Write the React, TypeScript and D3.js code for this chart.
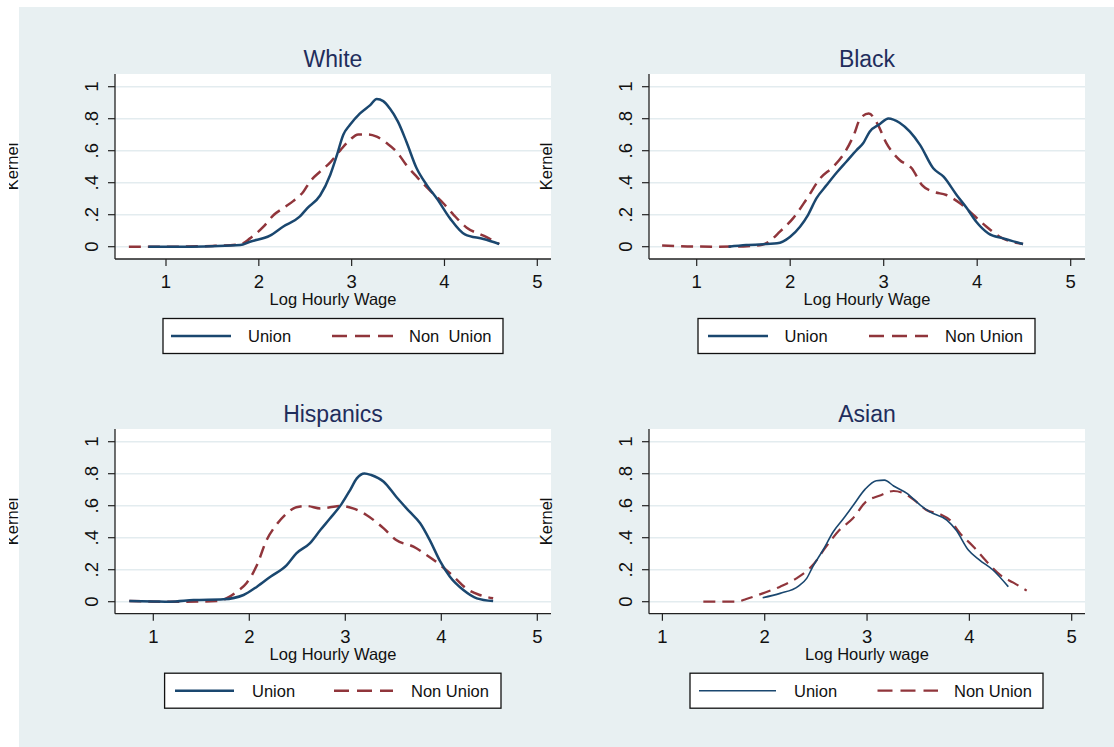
// Kernel densities of log hourly wage, union vs non union, by race (2x2 grid)
import * as d3 from "d3";

const yTicks = [0, 0.2, 0.4, 0.6, 0.8, 1];
const yTickLabels = ["0", ".2", ".4", ".6", ".8", "1"];
const xTicks = [1, 2, 3, 4, 5];

const whiteUnion = [[0.81,0],[1.2,0],[1.5,0.003],[1.8,0.01],[1.905,0.031],[2.12,0.069],[2.26,0.125],[2.44,0.1875],[2.52,0.24],[2.66,0.32],[2.77,0.45],[2.84,0.57],[2.91,0.7],[2.98,0.76],[3.09,0.833],[3.2,0.885],[3.27,0.923],[3.34,0.91],[3.41,0.865],[3.5,0.78],[3.59,0.656],[3.7,0.49],[3.81,0.385],[3.92,0.3],[4.06,0.177],[4.22,0.077],[4.42,0.048],[4.59,0.017]];
const whiteNonUnion = [[0.6,0],[1.0,0],[1.5,0.005],[1.8,0.015],[1.905,0.052],[2.05,0.125],[2.16,0.198],[2.26,0.24],[2.37,0.285],[2.48,0.344],[2.55,0.406],[2.66,0.469],[2.77,0.527],[2.88,0.604],[2.98,0.667],[3.07,0.702],[3.18,0.702],[3.27,0.6875],[3.38,0.646],[3.49,0.59],[3.59,0.51],[3.7,0.4375],[3.84,0.354],[3.99,0.27],[4.1,0.198],[4.24,0.119],[4.42,0.069],[4.59,0.017]];

const blackUnion = [[1.34,0],[1.53,0.01],[1.86,0.021],[2.0,0.0625],[2.105,0.125],[2.19,0.198],[2.28,0.302],[2.39,0.385],[2.5,0.465],[2.6,0.531],[2.71,0.604],[2.78,0.646],[2.85,0.719],[2.96,0.767],[3.05,0.802],[3.17,0.775],[3.28,0.719],[3.39,0.635],[3.53,0.49],[3.64,0.4375],[3.78,0.323],[3.89,0.24],[3.99,0.156],[4.12,0.083],[4.28,0.052],[4.49,0.017]];
const blackNonUnion = [[0.63,0.008],[0.9,0.002],[1.2,0],[1.5,0.002],[1.7,0.012],[1.78,0.035],[1.89,0.094],[2.03,0.177],[2.18,0.302],[2.32,0.427],[2.46,0.5],[2.57,0.577],[2.68,0.698],[2.75,0.802],[2.84,0.833],[2.93,0.771],[3.03,0.646],[3.17,0.542],[3.3,0.49],[3.41,0.385],[3.53,0.344],[3.67,0.323],[3.82,0.27],[3.96,0.198],[4.1,0.125],[4.24,0.0625],[4.49,0.017]];

const hispUnion = [[0.75,0.005],[1.0,0.002],[1.17,0],[1.42,0.01],[1.73,0.015],[1.94,0.042],[2.08,0.094],[2.22,0.156],[2.39,0.229],[2.49,0.302],[2.63,0.365],[2.74,0.448],[2.84,0.52],[2.96,0.61],[3.05,0.698],[3.12,0.771],[3.2,0.802],[3.27,0.792],[3.4,0.75],[3.53,0.656],[3.67,0.5625],[3.78,0.49],[3.88,0.385],[3.99,0.25],[4.09,0.156],[4.23,0.073],[4.37,0.021],[4.54,0.004]];
const hispNonUnion = [[0.75,0.005],[1.07,0],[1.31,0],[1.66,0.004],[1.76,0.02],[1.87,0.0625],[1.97,0.115],[2.08,0.229],[2.18,0.385],[2.28,0.479],[2.39,0.552],[2.49,0.59],[2.6,0.598],[2.74,0.583],[2.84,0.59],[2.96,0.598],[3.08,0.583],[3.22,0.542],[3.4,0.458],[3.53,0.385],[3.71,0.344],[3.85,0.29],[3.99,0.229],[4.13,0.156],[4.26,0.083],[4.4,0.042],[4.54,0.021]];

const asianUnion = [[1.98,0.025],[2.15,0.052],[2.33,0.098],[2.41,0.146],[2.47,0.219],[2.57,0.323],[2.67,0.4375],[2.77,0.52],[2.86,0.598],[2.98,0.702],[3.09,0.756],[3.17,0.76],[3.26,0.723],[3.39,0.677],[3.52,0.604],[3.61,0.5625],[3.78,0.51],[3.87,0.448],[3.99,0.323],[4.1,0.26],[4.23,0.198],[4.38,0.094]];
const asianNonUnion = [[1.4,0],[1.72,0],[1.82,0.017],[1.98,0.052],[2.15,0.094],[2.31,0.146],[2.47,0.229],[2.6,0.344],[2.73,0.448],[2.86,0.52],[2.99,0.625],[3.12,0.6625],[3.26,0.692],[3.39,0.667],[3.48,0.625],[3.58,0.573],[3.71,0.548],[3.81,0.51],[3.91,0.427],[4.04,0.344],[4.17,0.25],[4.3,0.167],[4.43,0.119],[4.56,0.069]];

const FONT = "'Liberation Sans', Arial, Helvetica, sans-serif";
const UNION = "#1a476f";
const NONUNION = "#90353b";
const BG = "#e8f0f2";
const GRID = "#e3ecef";

// layout per panel (pixels)
const panels = [
  { title: "White", union: whiteUnion, non: whiteNonUnion, left: 115, right: 551, top: 74, bottom: 259, x1: 166, x5: 537.3, y0: 246.7, y1: 86.7, xTitle: "Log Hourly Wage", nonLabel: "Non  Union", uw: 2.5, nw: 2.5,
    lg: { x0: 163, x1: 503, uL: [171, 231], uT: 248, nL: [332, 393], nT: 409 } },
  { title: "Black", union: blackUnion, non: blackNonUnion, left: 649, right: 1085, top: 74, bottom: 259, x1: 696.7, x5: 1070.7, y0: 246.7, y1: 86.7, xTitle: "Log Hourly Wage", nonLabel: "Non Union", uw: 2.5, nw: 2.5,
    lg: { x0: 698, x1: 1035, uL: [708, 768], uT: 784.5, nL: [869, 928], nT: 945 } },
  { title: "Hispanics", union: hispUnion, non: hispNonUnion, left: 115, right: 551, top: 429, bottom: 613.7, x1: 153.3, x5: 537.3, y0: 601.7, y1: 441.7, xTitle: "Log Hourly Wage", nonLabel: "Non Union", uw: 2.5, nw: 2.5,
    lg: { x0: 164.6, x1: 501, uL: [175, 234], uT: 252, nL: [334, 393], nT: 411 } },
  { title: "Asian", union: asianUnion, non: asianNonUnion, left: 649, right: 1085, top: 429, bottom: 613.7, x1: 662.4, x5: 1071.7, y0: 601.7, y1: 441.7, xTitle: "Log Hourly wage", nonLabel: "Non Union", uw: 1.6, nw: 2.2,
    lg: { x0: 690, x1: 1043, uL: [699, 776], uT: 794, nL: [877.5, 938], nT: 954 } },
];

function Panel({ p }) {
  const x = d3.scaleLinear().domain([1, 5]).range([p.x1, p.x5]);
  const y = d3.scaleLinear().domain([0, 1]).range([p.y0, p.y1]);
  const line = d3.line().x(d => x(d[0])).y(d => y(d[1])).curve(d3.curveMonotoneX);
  const cx = (p.left + p.right) / 2;
  const cy = (p.top + p.bottom) / 2;
  const lgTop = p.bottom + 59.5;
  const lgMid = lgTop + 17.5;
  return (
    <g fontFamily={FONT}>
      <rect x={p.left} y={p.top} width={p.right - p.left} height={p.bottom - p.top} fill="#fff" />
      {yTicks.map(t => (
        <line key={t} x1={p.left} x2={p.right} y1={y(t)} y2={y(t)} stroke={GRID} strokeWidth={1.6} />
      ))}
      <path d={line(p.non)} fill="none" stroke={NONUNION} strokeWidth={p.nw} strokeDasharray="12,7" />
      <path d={line(p.union)} fill="none" stroke={UNION} strokeWidth={p.uw} />
      {/* axes */}
      <line x1={p.left} x2={p.left} y1={p.top} y2={p.bottom} stroke="#222" strokeWidth={1.3} />
      <line x1={p.left} x2={p.right} y1={p.bottom} y2={p.bottom} stroke="#222" strokeWidth={1.3} />
      {yTicks.map((t, i) => (
        <g key={t}>
          <line x1={p.left - 7} x2={p.left} y1={y(t)} y2={y(t)} stroke="#222" strokeWidth={1.2} />
          <text transform={`translate(${p.left - 17},${y(t)}) rotate(-90)`} textAnchor="middle" fontSize={18.5} fill="#111">{yTickLabels[i]}</text>
        </g>
      ))}
      {xTicks.map(t => (
        <g key={t}>
          <line x1={x(t)} x2={x(t)} y1={p.bottom} y2={p.bottom + 7} stroke="#222" strokeWidth={1.2} />
          <text x={x(t)} y={p.bottom + 29} textAnchor="middle" fontSize={18.5} fill="#111">{t}</text>
        </g>
      ))}
      <text x={cx} y={p.bottom + 46} textAnchor="middle" fontSize={16.5} fill="#111">{p.xTitle}</text>
      <g clipPath="url(#leftClip)">
        <text transform={`translate(${p.left - 97},${cy}) rotate(-90)`} textAnchor="middle" fontSize={16.5} fill="#111">Kernel</text>
      </g>
      <text x={cx} y={p.top - 7} textAnchor="middle" fontSize={23} fill="#1f2d5c">{p.title}</text>
      {/* legend */}
      <rect x={p.lg.x0} y={lgTop} width={p.lg.x1 - p.lg.x0} height={35} fill="#fff" stroke="#111" strokeWidth={1.3} />
      <line x1={p.lg.uL[0]} x2={p.lg.uL[1]} y1={lgMid} y2={lgMid} stroke={UNION} strokeWidth={p.uw} />
      <text x={p.lg.uT} y={lgMid + 6} fontSize={16.5} fill="#111">Union</text>
      <line x1={p.lg.nL[0]} x2={p.lg.nL[1]} y1={lgMid} y2={lgMid} stroke={NONUNION} strokeWidth={p.nw} strokeDasharray="15,8" />
      <text x={p.lg.nT} y={lgMid + 6} fontSize={16.5} fill="#111" style={{ whiteSpace: "pre" }}>{p.nonLabel}</text>
    </g>
  );
}

export default function App() {
  return (
    <div style={{ position: "absolute", left: 0, top: 0 }}>
      <svg width={1114} height={747} style={{ display: "block", background: "#fff" }}>
        <defs>
          <clipPath id="leftClip" clipPathUnits="userSpaceOnUse">
            <rect x={9} y={0} width={1105} height={747} />
          </clipPath>
        </defs>
        <rect x={19} y={7} width={1095} height={740} fill={BG} />
        {panels.map(p => <Panel key={p.title} p={p} />)}
      </svg>
    </div>
  );
}
